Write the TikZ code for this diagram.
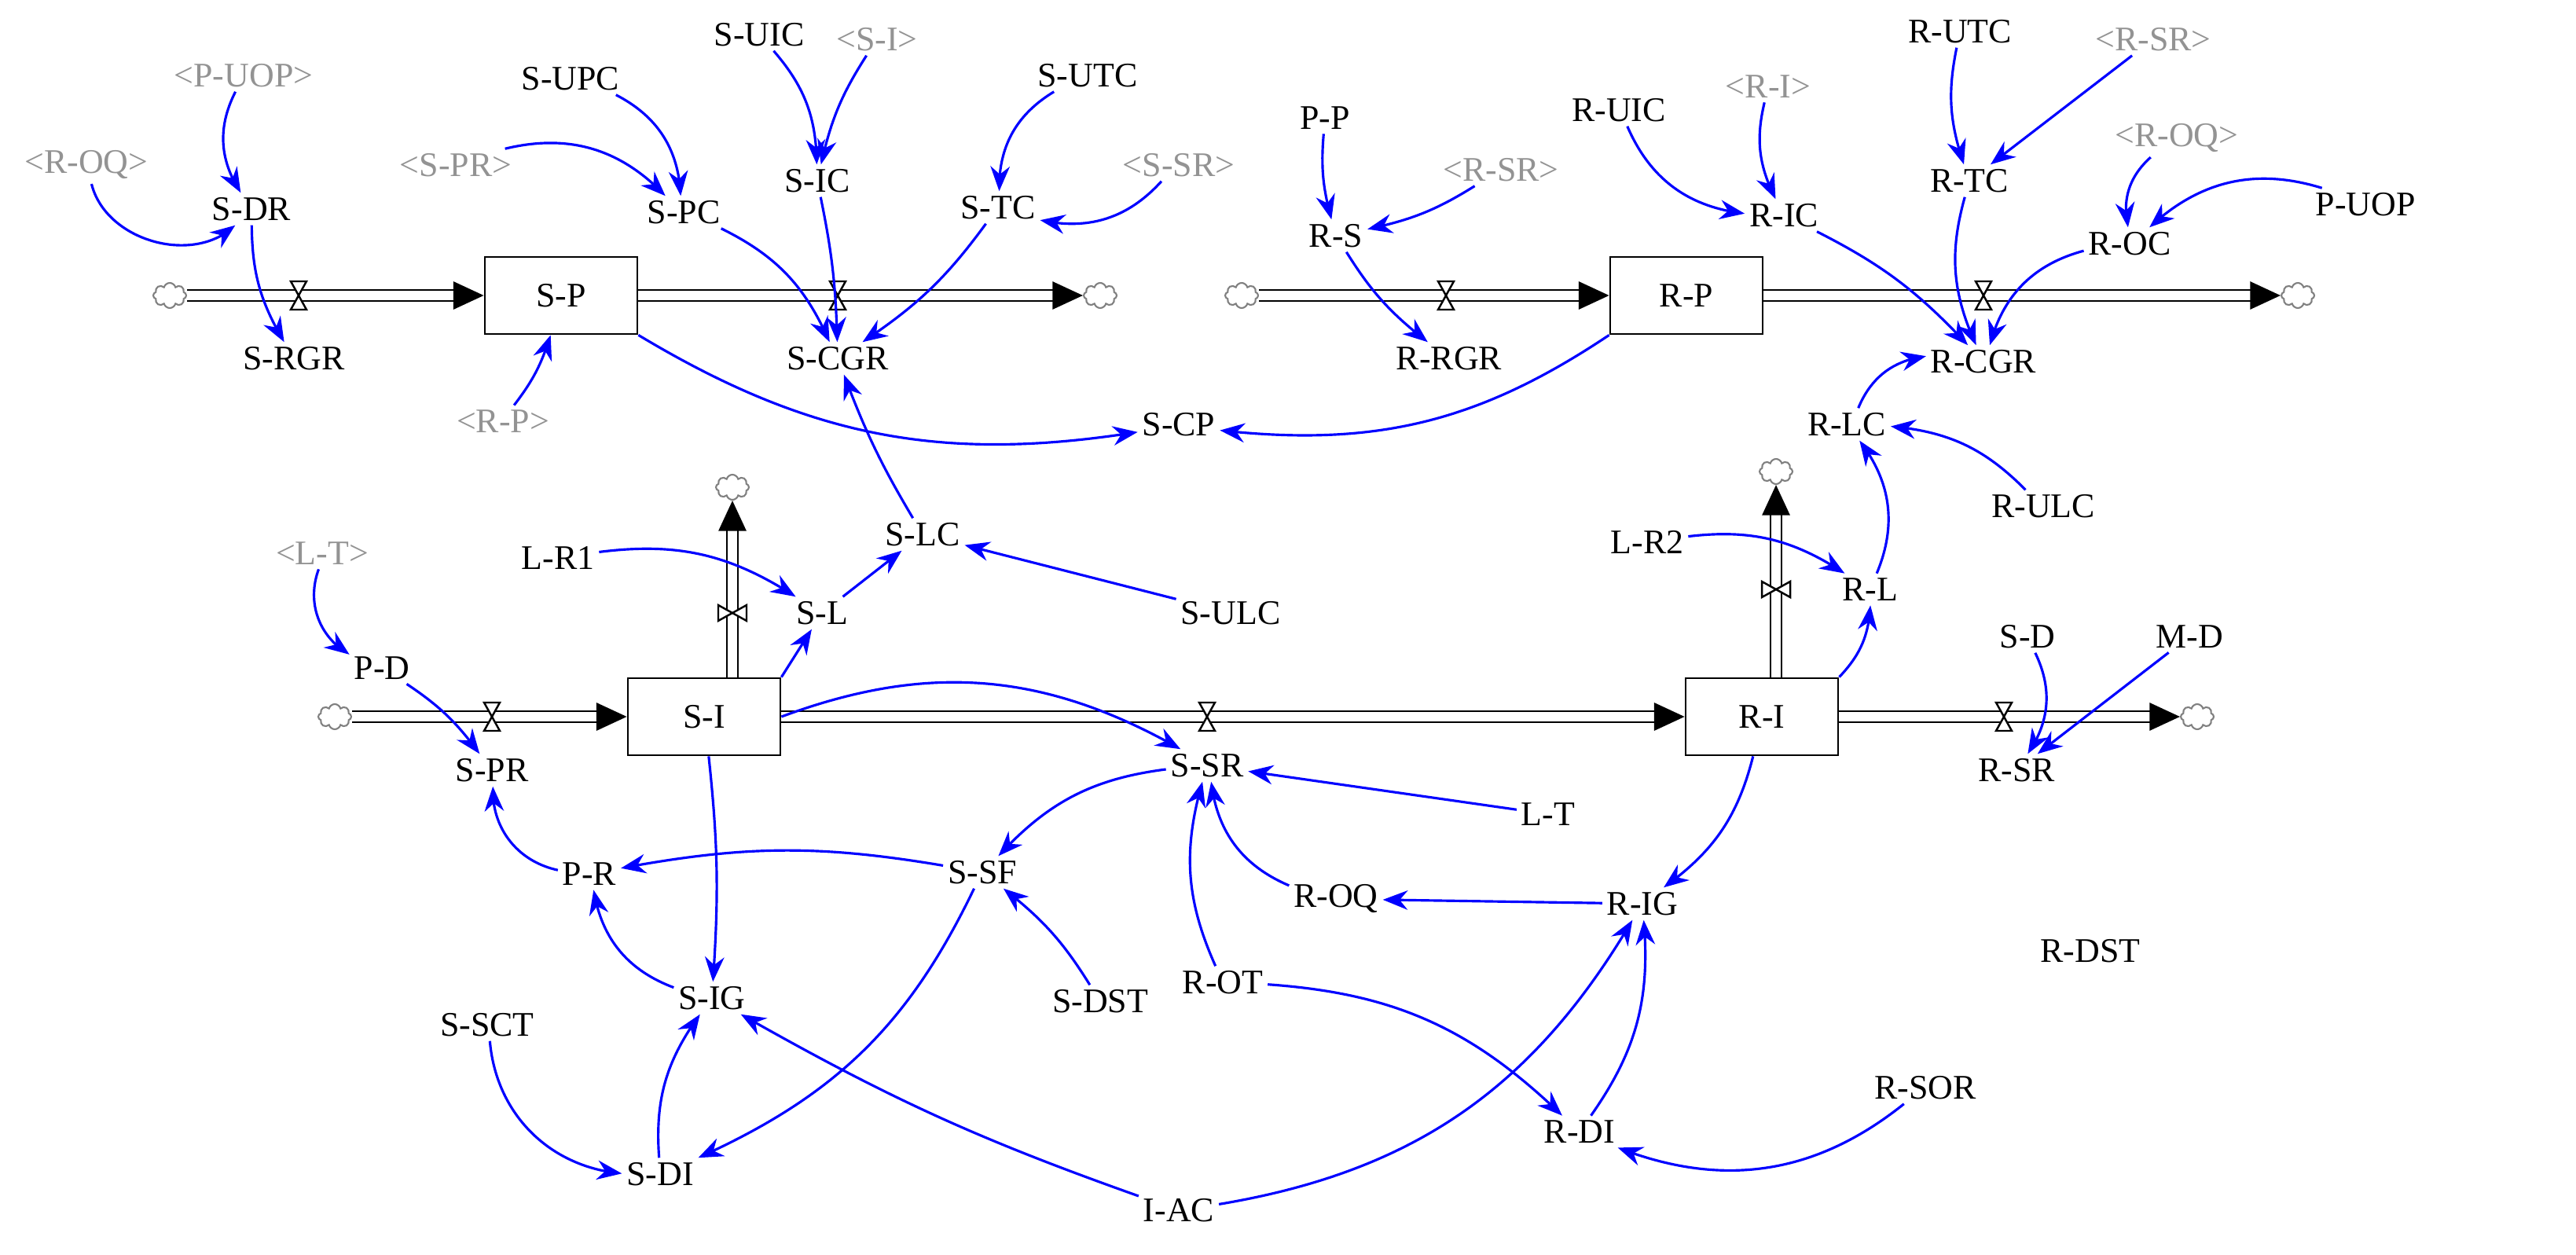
\documentclass[tikz,border=0pt]{standalone}
\usepackage{fontspec}
\setmainfont{Liberation Serif}
\usetikzlibrary{arrows.meta,shapes.symbols,bending}
\begin{document}
\begin{tikzpicture}[x=0.02cm,y=0.02cm,
  every node/.style={font=\fontsize{12.5}{14}\selectfont},
  v/.style={inner sep=1.5pt},
  sh/.style={v,text=gray!85},
  stock/.style={draw,line width=0.8pt,minimum width=1.94cm,minimum height=0.98cm,fill=white,inner sep=0},
  cl/.style={cloud,cloud puffs=8,aspect=1.4,draw=gray,fill=white,minimum width=0.42cm,minimum height=0.32cm,inner sep=0,line width=0.6pt},
  ln/.style={blue,line width=0.9pt,-{Stealth[length=9pt,width=7pt]}},
  pipe/.style={double=white,double distance=3.2pt,line width=0.8pt},
  tip/.style={line width=0.8pt,-{Triangle[length=11pt,width=10pt]}},
  valve/.pic={\draw[fill=white,line width=0.7pt] (-5,-9)--(5,-9)--(-5,9)--(5,9)--cycle;}
]
\useasboundingbox (0,0) rectangle (1639,-798.5);
% stocks
\node[stock] (SP) at (357,-188) {S-P};
\node[stock] (RP) at (1073,-188) {R-P};
\node[stock] (SI) at (448,-456) {S-I};
\node[stock] (RI) at (1121,-456) {R-I};
% clouds
\node[cl] (c1) at (108,-188) {};
\node[cl] (c2) at (700,-188) {};
\node[cl] (c3) at (790,-188) {};
\node[cl] (c4) at (1462,-188) {};
\node[cl] (c5) at (213,-456) {};
\node[cl] (c6) at (1398,-456) {};
\node[cl] (c7) at (466,-310) {};
\node[cl] (c8) at (1130,-300) {};
% pipes
\draw[pipe] (c1.east) -- ([xshift=-8]SP.west); \draw[tip] ([xshift=-10]SP.west)--(SP.west);
\draw[pipe] (SP.east) -- ([xshift=-8]c2.west); \draw[tip] ([xshift=-10]c2.west)--(c2.west);
\draw[pipe] (c3.east) -- ([xshift=-8]RP.west); \draw[tip] ([xshift=-10]RP.west)--(RP.west);
\draw[pipe] (RP.east) -- ([xshift=-8]c4.west); \draw[tip] ([xshift=-10]c4.west)--(c4.west);
\draw[pipe] (c5.east) -- ([xshift=-8]SI.west); \draw[tip] ([xshift=-10]SI.west)--(SI.west);
\draw[pipe] (SI.east) -- ([xshift=-8]RI.west); \draw[tip] ([xshift=-10]RI.west)--(RI.west);
\draw[pipe] (RI.east) -- ([xshift=-8]c6.west); \draw[tip] ([xshift=-10]c6.west)--(c6.west);
\draw[pipe] (SI.north -| c7) -- ([yshift=-8]c7.south); \draw[tip] ([yshift=-10]c7.south)--(c7.south);
\draw[pipe] (RI.north -| c8) -- ([yshift=-8]c8.south); \draw[tip] ([yshift=-10]c8.south)--(c8.south);
% valves
\pic at (190,-188) {valve};
\pic at (533,-188) {valve};
\pic at (920,-188) {valve};
\pic at (1262,-188) {valve};
\pic at (313,-456) {valve};
\pic at (768,-456) {valve};
\pic at (1275,-456) {valve};
\pic[rotate=90] at (466,-390) {valve};
\pic[rotate=90] at (1130,-375) {valve};
% variables
\node[v] (SDR) at (160,-133) {S-DR};
\node[sh] (PUOPs) at (155,-48) {<P-UOP>};
\node[sh] (ROQs) at (55,-105) {<R-OQ>};
\node[v] (SRGR) at (187,-228) {S-RGR};
\node[v] (SUPC) at (363,-50) {S-UPC};
\node[v] (SUIC) at (483,-22) {S-UIC};
\node[sh] (SIs) at (558,-25) {<S-I>};
\node[v] (SUTC) at (692,-48) {S-UTC};
\node[sh] (SPRs) at (290,-105) {<S-PR>};
\node[v] (SPC) at (435,-135) {S-PC};
\node[v] (SIC) at (520,-115) {S-IC};
\node[v] (STC) at (635,-132) {S-TC};
\node[sh] (SSRs) at (750,-105) {<S-SR>};
\node[v] (SCGR) at (533,-228) {S-CGR};
\node[sh] (RPs) at (320,-268) {<R-P>};
\node[v] (SCP) at (750,-270) {S-CP};
\node[v] (SLC) at (587,-340) {S-LC};
\node[v] (SULC) at (783,-390) {S-ULC};
\node[v] (SL) at (523,-390) {S-L};
\node[v] (LR1) at (355,-355) {L-R1};
\node[sh] (LTs) at (205,-352) {<L-T>};
\node[v] (PD) at (243,-425) {P-D};
\node[v] (SPR) at (313,-490) {S-PR};
\node[v] (SSR) at (768,-487) {S-SR};
\node[v] (RSR) at (1283,-490) {R-SR};
\node[v] (LR2) at (1048,-345) {L-R2};
\node[v] (RL) at (1190,-375) {R-L};
\node[v] (SD) at (1290,-405) {S-D};
\node[v] (MD) at (1393,-405) {M-D};
\node[v] (LT) at (985,-518) {L-T};
\node[v] (ROQ) at (850,-572) {R-OQ};
\node[v] (RIG) at (1045,-575) {R-IG};
\node[v] (RDST) at (1330,-605) {R-DST};
\node[v] (PR) at (375,-556) {P-R};
\node[v] (SSF) at (625,-555) {S-SF};
\node[v] (SIG) at (453,-635) {S-IG};
\node[v] (SSCT) at (310,-652) {S-SCT};
\node[v] (SDST) at (700,-637) {S-DST};
\node[v] (ROT) at (778,-625) {R-OT};
\node[v] (SDI) at (420,-747) {S-DI};
\node[v] (IAC) at (750,-770) {I-AC};
\node[v] (RDI) at (1005,-720) {R-DI};
\node[v] (RSOR) at (1225,-692) {R-SOR};
\node[v] (PP) at (843,-75) {P-P};
\node[sh] (RSRs1) at (955,-108) {<R-SR>};
\node[v] (RS) at (850,-150) {R-S};
\node[v] (RRGR) at (922,-228) {R-RGR};
\node[v] (RUIC) at (1030,-70) {R-UIC};
\node[sh] (RIs) at (1125,-55) {<R-I>};
\node[v] (RUTC) at (1247,-20) {R-UTC};
\node[sh] (RSRs2) at (1370,-25) {<R-SR>};
\node[v] (RIC) at (1135,-137) {R-IC};
\node[v] (RTC) at (1253,-115) {R-TC};
\node[sh] (ROQs2) at (1385,-88) {<R-OQ>};
\node[v] (PUOP) at (1505,-130) {P-UOP};
\node[v] (ROC) at (1355,-155) {R-OC};
\node[v] (RCGR) at (1262,-230) {R-CGR};
\node[v] (RLC) at (1175,-270) {R-LC};
\node[v] (RULC) at (1300,-322) {R-ULC};
% links
\draw[ln] (PUOPs) to[bend right=30] (SDR);
\draw[ln] (ROQs) to[bend right=60] (SDR);
\draw[ln] (SDR) to[bend right=15] (SRGR);
\draw[ln] (SUPC) to[bend left=30] (SPC);
\draw[ln] (SPRs) to[bend left=30] (SPC);
\draw[ln] (SUIC) to[bend left=20] (SIC);
\draw[ln] (SIs) to[bend right=10] (SIC);
\draw[ln] (SUTC) to[bend right=30] (STC);
\draw[ln] (SSRs) to[bend left=30] (STC);
\draw[ln] (SPC) to[bend left=20] (SCGR);
\draw[ln] (SIC) to[bend left=5] (SCGR);
\draw[ln] (STC) to[bend left=10] (SCGR);
\draw[ln] (RPs) to[bend right=10] (SP);
\draw[ln] (SP.south east) to[bend right=20] (SCP);
\draw[ln] (RP.south west) to[bend left=20] (SCP);
\draw[ln] (SLC) to[bend left=5] (SCGR);
\draw[ln] (SULC) -- (SLC);
\draw[ln] (SL) -- (SLC);
\draw[ln] (LR1) to[bend left=20] (SL);
\draw[ln] (SI.north east) -- (SL);
\draw[ln] (LTs) to[bend right=40] (PD);
\draw[ln] (PD) to[bend left=10] (SPR);
\draw[ln] (SI.east) to[bend left=25] (SSR);
\draw[ln] (SI) to[bend left=5] (SIG);
\draw[ln] (LT) -- (SSR);
\draw[ln] (ROQ) to[bend left=30] (SSR);
\draw[ln] (ROT) to[bend left=20] (SSR);
\draw[ln] (SSR) to[bend right=20] (SSF);
\draw[ln] (SSF) to[bend right=10] (PR);
\draw[ln] (PR) to[bend left=40] (SPR);
\draw[ln] (SIG) to[bend left=30] (PR);
\draw[ln] (SDST) to[bend right=10] (SSF);
\draw[ln] (SSF) to[bend left=20] (SDI);
\draw[ln] (SSCT) to[bend right=40] (SDI);
\draw[ln] (SDI) to[bend left=20] (SIG);
\draw[ln] (IAC) to[bend left=5] (SIG);
\draw[ln] (IAC) to[bend right=25] (RIG);
\draw[ln] (ROT) to[bend left=20] (RDI);
\draw[ln] (RSOR) to[bend left=30] (RDI);
\draw[ln] (RDI) to[bend right=20] (RIG);
\draw[ln] (RIG) -- (ROQ);
\draw[ln] (RI) to[bend left=20] (RIG);
\draw[ln] (RI.north east) to[bend right=20] (RL);
\draw[ln] (LR2) to[bend left=20] (RL);
\draw[ln] (RL) to[bend right=30] (RLC);
\draw[ln] (RULC) to[bend right=20] (RLC);
\draw[ln] (RLC) to[bend left=30] (RCGR);
\draw[ln] (SD) to[bend left=30] (RSR);
\draw[ln] (MD) -- (RSR);
\draw[ln] (PP) to[bend right=10] (RS);
\draw[ln] (RSRs1) to[bend left=10] (RS);
\draw[ln] (RS) to[bend right=10] (RRGR);
\draw[ln] (RUIC) to[bend right=30] (RIC);
\draw[ln] (RIs) to[bend right=20] (RIC);
\draw[ln] (RIC) to[bend left=10] (RCGR);
\draw[ln] (RUTC) to[bend right=15] (RTC);
\draw[ln] (RSRs2) -- (RTC);
\draw[ln] (RTC) to[bend right=20] (RCGR);
\draw[ln] (ROQs2) to[bend right=30] (ROC);
\draw[ln] (PUOP) to[bend right=30] (ROC);
\draw[ln] (ROC) to[bend right=30] (RCGR);
\end{tikzpicture}
\end{document}
